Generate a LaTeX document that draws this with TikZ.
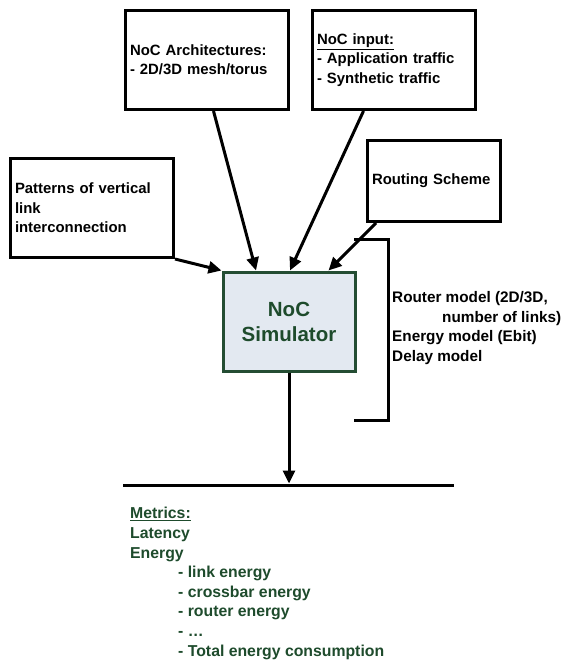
\documentclass[tikz,border=0pt]{standalone}
\usepackage{fontspec}
\setmainfont{Liberation Sans}
\usetikzlibrary{arrows.meta}
\definecolor{dgreen}{HTML}{1E4B2C}
\definecolor{simfill}{HTML}{E3E9F1}
\definecolor{simborder}{HTML}{244D33}
\tikzset{
  inbox/.style={draw=black, line width=3pt, rectangle, align=left, inner xsep=4pt,
    font=\fontsize{14.9}{19.4}\selectfont\bfseries, anchor=north west},
  plain/.style={inner sep=0pt, align=left, anchor=west},
  conn/.style={line width=3pt, -{Triangle[length=13pt,width=12pt]}},
}
\begin{document}
\begin{tikzpicture}[x=1pt,y=-1pt]
\useasboundingbox (0,0) rectangle (568,664);
% input boxes
\node[inbox, minimum width=163pt, minimum height=99pt, text width=154pt] (arch) at (124,9)
  {NoC Architectures:\\- 2D/3D mesh/torus};
\node[inbox, minimum width=163pt, minimum height=99pt, text width=154pt] (inp) at (311,9)
  {\underline{NoC input:}\\- Application traffic\\- Synthetic traffic};
\node[inbox, minimum width=133pt, minimum height=81pt, text width=124pt] (route) at (366,139)
  {Routing Scheme};
\node[inbox, minimum width=163pt, minimum height=99pt, text width=154pt] (pat) at (9,157)
  {Patterns of vertical\\link\\interconnection};
% simulator
\node[draw=simborder, fill=simfill, line width=3pt, minimum width=132pt, minimum height=99pt,
  align=center, text=dgreen, font=\fontsize{20.5}{25}\selectfont\bfseries] (sim) at (289,321.5)
  {NoC\\Simulator};
% connectors into simulator
\draw[conn] ([xshift=6.5pt]arch.south) -- ([xshift=-33pt]sim.north);
\draw[conn] ([xshift=-30.5pt]inp.south) -- ([xshift=1pt]sim.north);
\draw[conn] ([xshift=10pt]route.south west) -- ([xshift=-28pt]sim.north east);
\draw[conn] (pat.south east) -- (sim.north west);
% bracket
\coordinate (bt) at (354,239);
\coordinate (bb) at (354,420);
\draw[line width=3pt] (bt) -- ++(34,0) |- (bb);
\node[plain, font=\fontsize{15.3}{19.8}\selectfont\bfseries] (models) at (392,328)
  {Router model (2D/3D,\\\hspace*{50pt}number of links)\\Energy model (Ebit)\\Delay model};
% output
\coordinate (ml) at (123,485);
\coordinate (mr) at (454,485);
\coordinate (mt) at (289,483.5);
\draw[line width=3pt] (ml) -- (mr);
\draw[conn] (sim.south) -- (mt);
\node[plain, text=dgreen, font=\fontsize{15.8}{19.6}\selectfont\bfseries] (metrics) at (130,583.5)
  {\underline{Metrics:}\\Latency\\Energy\\\hspace*{48pt}- link energy\\\hspace*{48pt}- crossbar energy\\\hspace*{48pt}- router energy\\\hspace*{48pt}- \dots\\\hspace*{48pt}- Total energy consumption};
\end{tikzpicture}
\end{document}
